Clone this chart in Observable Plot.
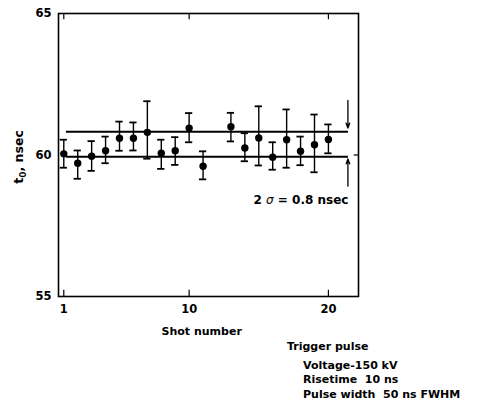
<!DOCTYPE html>
<html>
<head>
<meta charset="utf-8">
<script src="https://cdn.jsdelivr.net/npm/d3@7"></script>
<script src="https://cdn.jsdelivr.net/npm/@observablehq/plot@0.6"></script>
<style>
  body { margin: 0; background: #fff; font-family: "DejaVu Sans", sans-serif; }
  #wrap { position: relative; width: 486px; height: 418px; }
  #caption { position: absolute; left: 287px; top: 340px; font-weight: bold; font-size: 11px; line-height: 14.5px; color: #000; white-space: pre; }
  #caption .ind { padding-left: 16px; }
</style>
</head>
<body>
<div id="wrap">
  <div id="chart"></div>
  <div id="caption"><div>Trigger pulse</div><div class="ind" style="margin-top:4px">Voltage-150 kV</div><div class="ind">Risetime  10 ns</div><div class="ind">Pulse width  50 ns FWHM</div></div>
</div>
<script>
const shots = [1,2,3,4,5,6,7,8,9,10,11,13,14,15,16,17,18,19,20];
const t0    = [60.04,59.71,59.96,60.15,60.59,60.59,60.80,60.06,60.15,60.95,59.60,61.00,60.25,60.60,59.92,60.54,60.13,60.36,60.55];
const high  = [60.54,60.16,60.49,60.65,61.18,61.15,61.90,60.54,60.63,61.48,60.13,61.49,60.77,61.72,60.45,61.61,60.65,61.43,61.08];
const low   = [59.55,59.16,59.44,59.71,60.15,60.16,59.87,59.51,59.65,60.45,59.14,60.48,59.78,59.63,59.48,59.55,59.64,59.39,60.06];

const bandLevels = [60.82, 59.94];
const bandStart = 1.19, bandEnd = 21.44;
const arrowX = 21.4;
const arrowSpecs = [[61.93, 60.95], [58.9, 59.86]];
const sigmaParts = ["2 ", "\u03c3", " = 0.8 nsec"];
const sigmaPos = [14.62, 58.39];

const xTicks = [1, 10, 20];
const yTicks = [55, 60, 65];
const xLabel = "Shot number";
const xLabelPos = 10.9;

const data = shots.map((s, i) => ({shot: s, t0: t0[i], hi: high[i], lo: low[i]}));
const bands = bandLevels.map(v => ({y: v, x1: bandStart, x2: bandEnd}));
const arrows = arrowSpecs.map(([a, b]) => ({x: arrowX, y1: a, y2: b}));
const capHalf = 0.26;

const font = "DejaVu Sans, sans-serif";

const plot = Plot.plot({
  width: 486,
  height: 340,
  marginLeft: 58,
  marginRight: 128,
  marginTop: 13,
  marginBottom: 44,
  style: {fontFamily: font, fontWeight: "bold", fontSize: "12px", color: "#000", background: "#fff"},
  x: {domain: [0.62, 22.16], axis: null},
  y: {domain: [55, 65], axis: null},
  marks: [
    Plot.frame({stroke: "#000", strokeWidth: 1.6}),
    // inner ticks
    Plot.ruleX(xTicks, {x: d => d, y1: 55, y2: 55.22, stroke: "#000", strokeWidth: 1.2}),
    Plot.ruleX(xTicks, {x: d => d, y1: 64.78, y2: 65, stroke: "#000", strokeWidth: 1.2}),
    Plot.ruleY([60], {y: d => d, x1: 21.85, x2: 22.16, stroke: "#000", strokeWidth: 1.2}),
    // tick labels
    Plot.axisY({ticks: yTicks, tickSize: 0, tickPadding: 7, fontSize: 11.5, fontWeight: "bold", label: null}),
    Plot.axisX({ticks: xTicks, tickSize: 0, tickPadding: 8, fontSize: 11.5, fontWeight: "bold", label: null}),
    Plot.text([xLabel], {x: xLabelPos, frameAnchor: "bottom", dy: 38, fontSize: 11, fontWeight: "bold", text: d => d}),
    // band lines
    Plot.ruleY(bands, {y: "y", x1: "x1", x2: "x2", stroke: "#000", strokeWidth: 2}),
    // error bars
    Plot.ruleX(data, {x: "shot", y1: "lo", y2: "hi", stroke: "#000", strokeWidth: 1.4}),
    Plot.ruleY(data, {y: "hi", x1: d => d.shot - capHalf, x2: d => d.shot + capHalf, stroke: "#000", strokeWidth: 1.8}),
    Plot.ruleY(data, {y: "lo", x1: d => d.shot - capHalf, x2: d => d.shot + capHalf, stroke: "#000", strokeWidth: 1.8}),
    Plot.dot(data, {x: "shot", y: "t0", r: 3.7, fill: "#000", stroke: "none"}),
    // arrows
    Plot.arrow(arrows, {x: "x", y1: "y1", y2: "y2", stroke: "#000", strokeWidth: 1.3, headLength: 6, headAngle: 40, bend: 0}),
    Plot.text([sigmaParts.join("")], {x: sigmaPos[0], y: sigmaPos[1], text: d => d, textAnchor: "start", fontSize: 12, fontWeight: "bold", className: "sigma-label"})
  ]
});

document.getElementById("chart").appendChild(plot);

// italic sigma inside the annotation
d3.select(plot).selectAll(".sigma-label text").each(function() {
  const el = d3.select(this);
  el.text(null);
  sigmaParts.forEach((p, i) => {
    const ts = el.append("tspan").text(p);
    if (i === 1) ts.attr("font-style", "italic").attr("font-weight", "normal");
  });
  el.attr("xml:space", "preserve");
});

// y-axis title with a true subscript
const svg = d3.select(plot);
const t = svg.append("text")
  .attr("transform", "translate(23,157) rotate(-90)")
  .attr("text-anchor", "middle")
  .attr("font-family", font)
  .attr("font-weight", "bold")
  .attr("font-size", 12.5)
  .attr("fill", "#000");
t.append("tspan").text("t");
t.append("tspan").attr("font-size", 9).attr("dy", 3).text("0");
t.append("tspan").attr("dy", -3).text(", nsec");
</script>
</body>
</html>
